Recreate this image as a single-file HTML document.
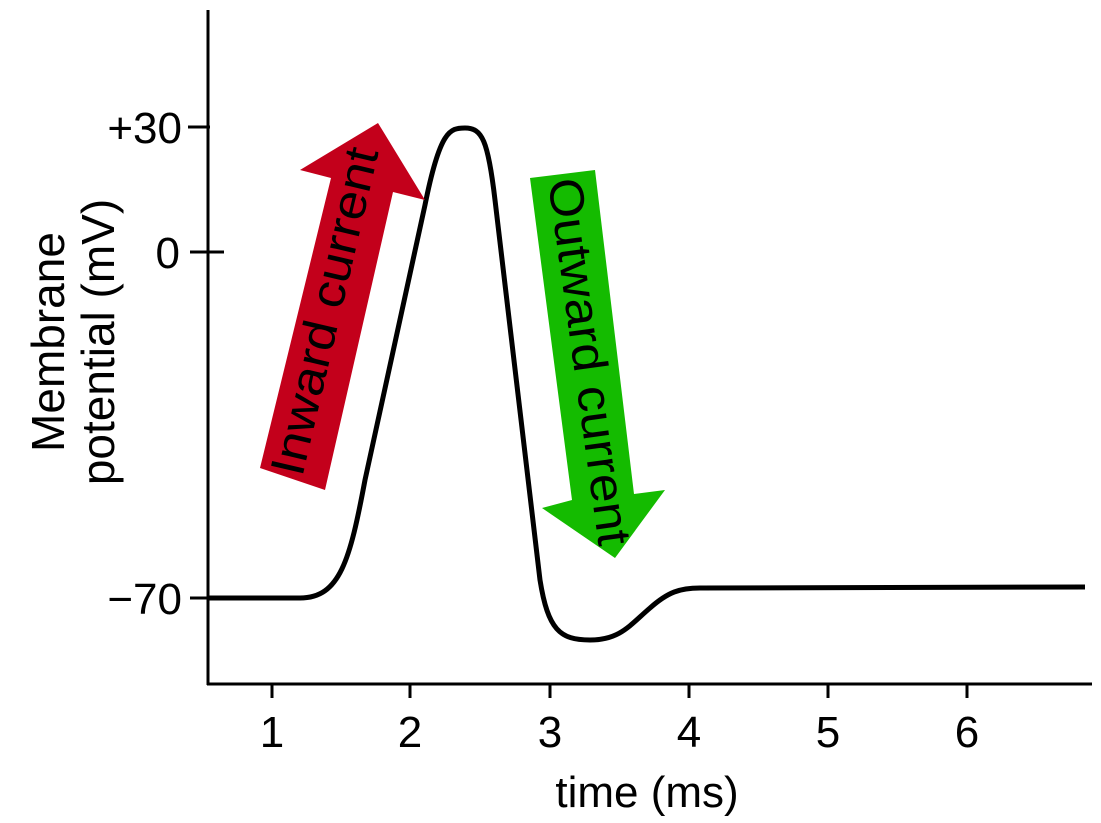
<!DOCTYPE html>
<html><head><meta charset="utf-8"><style>
html,body{margin:0;padding:0;background:#fff;}
svg{display:block;}
text{font-family:"Liberation Sans",Arial,sans-serif;}
</style></head><body>
<svg width="1101" height="823" viewBox="0 0 1101 823" xmlns="http://www.w3.org/2000/svg">
<line x1="208" y1="10" x2="208" y2="685" stroke="#000" stroke-width="3"/>
<line x1="207" y1="684" x2="1092" y2="684" stroke="#000" stroke-width="3"/>
<line x1="188" y1="127" x2="210" y2="127" stroke="#000" stroke-width="3"/>
<line x1="190" y1="252" x2="224" y2="252" stroke="#000" stroke-width="3"/>
<line x1="190" y1="598" x2="210" y2="598" stroke="#000" stroke-width="3"/>
<text x="182" y="143" font-size="44" text-anchor="end">+30</text>
<text x="180" y="268" font-size="44" text-anchor="end">0</text>
<text x="182" y="614" font-size="44" text-anchor="end">−70</text>
<g stroke="#000" stroke-width="3">
<line x1="272" y1="684" x2="272" y2="698"/>
<line x1="410" y1="684" x2="410" y2="698"/>
<line x1="550" y1="684" x2="550" y2="698"/>
<line x1="689" y1="684" x2="689" y2="698"/>
<line x1="828" y1="684" x2="828" y2="698"/>
<line x1="967" y1="684" x2="967" y2="698"/>
</g>
<g font-size="44" text-anchor="middle">
<text x="272" y="747">1</text>
<text x="410" y="747">2</text>
<text x="550" y="747">3</text>
<text x="689" y="747">4</text>
<text x="828" y="747">5</text>
<text x="967" y="747">6</text>
</g>
<text x="647" y="807" font-size="44" text-anchor="middle">time (ms)</text>
<g font-size="46" text-anchor="middle">
<text transform="translate(64,342) rotate(-90)">Membrane</text>
<text transform="translate(114,342) rotate(-90)">potential (mV)</text>
</g>
<path d="M207,598 L300,598 C340,598 350,560 365,480 L425,205 C440,130 450,128 465,128 C482,128 488,140 495,200 L540,580 C548,630 560,640 590,640 C620,640 630,625 650,608 C668,592 680,588 700,588 L1085,587" fill="none" stroke="#000" stroke-width="5"/>
<polygon points="378,123 425,200 393,192 325,490 260,468 331,178 300,170" fill="#c3001b"/>
<text transform="translate(328,312) rotate(-76.8)" font-size="48" text-anchor="middle" dominant-baseline="middle" textLength="335" lengthAdjust="spacingAndGlyphs">Inward current</text>
<polygon points="530,178 595,170 634,494 665,490 615,558 542,508 572,500" fill="#14bb00"/>
<text transform="translate(586,362) rotate(82.1)" font-size="48" text-anchor="middle" dominant-baseline="middle" textLength="370" lengthAdjust="spacingAndGlyphs">Outward current</text>
</svg>
</body></html>
